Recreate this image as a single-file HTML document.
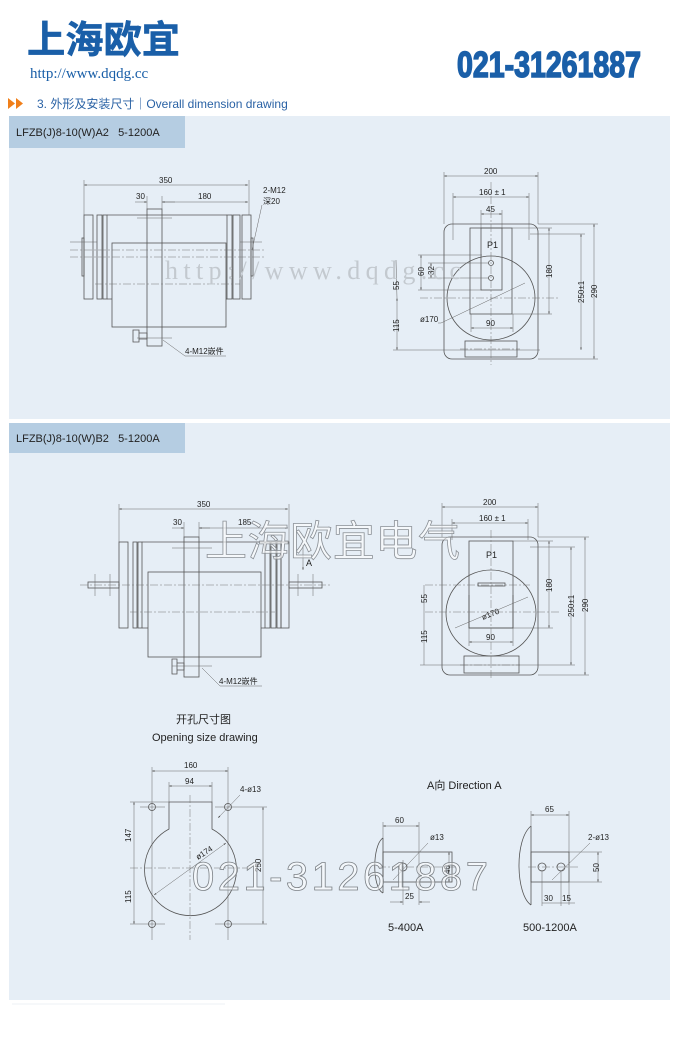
<!DOCTYPE html>
<html><head><meta charset="utf-8"><style>
html,body{margin:0;padding:0;background:#fff}
svg{display:block}
text{font-family:"Liberation Sans","Noto Sans CJK SC",sans-serif;fill:#222}
.l{stroke:#555;stroke-width:.8;fill:none}
.t{stroke:#666;stroke-width:.5;fill:none}
.c{stroke:#777;stroke-width:.5;fill:none;stroke-dasharray:8 2 2 2}
.d{font-size:8px}
</style></head><body>
<svg width="680" height="1050" viewBox="0 0 680 1050" xmlns="http://www.w3.org/2000/svg">
<defs><marker id="a" viewBox="0 0 6 6" refX="6" refY="3" markerWidth="5" markerHeight="5" orient="auto-start-reverse"><path d="M0,1 L6,3 L0,5z" fill="#555"/></marker></defs>
<rect width="680" height="1050" fill="#fff"/>
<!-- header -->
<text x="27" y="53" textLength="153" lengthAdjust="spacingAndGlyphs" style="font-size:38px;font-weight:bold;fill:#1a5fa8;stroke:#1a5fa8;stroke-width:.6;font-family:'Noto Sans CJK SC',sans-serif">上海欧宜</text>
<text x="30" y="78" style="font-size:15px;fill:#1a5fa8;font-family:'Liberation Serif',serif">http://www.dqdg.cc</text>
<text x="457" y="77" textLength="184" lengthAdjust="spacingAndGlyphs" style="font-size:36px;font-weight:bold;fill:#1a5fa8;stroke:#1a5fa8;stroke-width:1.6;font-family:'Liberation Sans Narrow','Liberation Sans',sans-serif">021-31261887</text>
<path d="M8,98 L15,103.5 L8,109z M16,98 L23,103.5 L16,109z" fill="#f07f1a"/>
<text x="37" y="108" style="font-size:12px;fill:#2a62a5">3. 外形及安装尺寸｜Overall dimension drawing</text>
<!-- panels -->
<rect x="9" y="116" width="661" height="303" fill="#e6eef6"/>
<rect x="9" y="116" width="176" height="32" fill="#b5cde2"/>
<text x="16" y="136" style="font-size:11px">LFZB(J)8-10(W)A2 &#160;&#160;5-1200A</text>
<rect x="9" y="423" width="661" height="577" fill="#e6eef6"/>
<rect x="9" y="423" width="176" height="30" fill="#b5cde2"/>
<text x="16" y="442" style="font-size:11px">LFZB(J)8-10(W)B2 &#160;&#160;5-1200A</text>
<line x1="12" y1="1004" x2="225" y2="1004" stroke="#eef2f6" stroke-width="1"/>

<!-- Drawing 1 left -->
<g>
<line class="t" x1="84" y1="185" x2="248" y2="185" marker-start="url(#a)" marker-end="url(#a)"/>
<line class="t" x1="84" y1="180" x2="84" y2="215"/><line class="t" x1="249" y1="180" x2="249" y2="215"/>
<text class="d" x="159" y="183">350</text>
<line class="t" x1="135" y1="202" x2="147" y2="202" marker-end="url(#a)"/>
<line class="t" x1="175" y1="202" x2="162" y2="202" marker-end="url(#a)"/>
<line class="t" x1="162" y1="202" x2="248" y2="202" marker-end="url(#a)"/>
<line class="t" x1="147" y1="196" x2="147" y2="209"/><line class="t" x1="162" y1="196" x2="162" y2="209"/>
<text class="d" x="136" y="199">30</text><text class="d" x="198" y="199">180</text>
<rect class="l" x="84" y="215" width="9" height="84"/>
<rect class="l" x="97" y="215" width="5" height="84"/>
<rect class="l" x="103" y="215" width="4" height="84"/>
<path class="l" d="M107,215 H227 M107,299 H112 M226,299 H227"/>
<rect class="l" x="112" y="243" width="114" height="84"/>
<rect class="l" x="227" y="215" width="5" height="84"/>
<rect class="l" x="233" y="215" width="7" height="84"/>
<rect class="l" x="242" y="215" width="9" height="84"/>
<rect class="l" x="82" y="238" width="2" height="38"/>
<rect class="l" x="251" y="238" width="2" height="38"/>
<rect class="l" x="147" y="209" width="15" height="137" fill="#e6eef6"/>
<path class="l" d="M133,330 h6 v12 h-6z M139,333 h8 v6 h-8z"/>
<line class="c" x1="70" y1="250" x2="265" y2="250"/>
<line class="c" x1="70" y1="257" x2="265" y2="257"/>
<line class="c" x1="95" y1="284" x2="240" y2="284"/>
<line class="t" x1="70" y1="242" x2="97" y2="242"/><line class="t" x1="240" y1="242" x2="262" y2="242"/>
<line class="t" x1="137" y1="218" x2="172" y2="218"/>
<line class="t" x1="137" y1="338" x2="172" y2="338"/>
<path class="t" d="M163,340 L185,356 H226"/>
<text class="d" x="185" y="354">4-M12嵌件</text>
<path class="t" d="M262,205 L252,250"/>
<text class="d" x="263" y="193">2-M12</text><text class="d" x="263" y="204">深20</text>
</g>

<!-- Drawing 1 right -->
<g>
<line class="t" x1="444" y1="176" x2="538" y2="176" marker-start="url(#a)" marker-end="url(#a)"/>
<line class="t" x1="444" y1="172" x2="444" y2="224"/><line class="t" x1="538" y1="172" x2="538" y2="224"/>
<text class="d" x="484" y="174">200</text>
<line class="t" x1="453" y1="197" x2="529" y2="197" marker-start="url(#a)" marker-end="url(#a)"/>
<line class="t" x1="453" y1="193" x2="453" y2="240"/><line class="t" x1="529" y1="193" x2="529" y2="240"/>
<text class="d" x="479" y="195">160 ± 1</text>
<line class="t" x1="481" y1="214" x2="502" y2="214" marker-start="url(#a)" marker-end="url(#a)"/>
<line class="t" x1="481" y1="210" x2="481" y2="228"/><line class="t" x1="502" y1="210" x2="502" y2="228"/>
<text class="d" x="486" y="212">45</text>
<rect class="l" x="444" y="224" width="94" height="135" rx="8"/>
<ellipse class="l" cx="491" cy="298" rx="44" ry="42"/>
<rect class="l" x="470" y="228" width="42" height="86" fill="#e6eef6"/>
<rect class="l" x="481" y="228" width="21" height="62"/>
<text class="d" x="487" y="248" style="font-size:9px">P1</text>
<circle class="l" cx="491" cy="263" r="2.5"/><circle class="l" cx="491" cy="278" r="2.5"/>
<rect class="l" x="465" y="341" width="52" height="16"/>
<line class="c" x1="491" y1="182" x2="491" y2="365"/>
<line class="c" x1="420" y1="298" x2="560" y2="298"/>
<line class="c" x1="460" y1="349" x2="520" y2="349"/>
<line class="t" x1="418" y1="255" x2="482" y2="255"/><line class="t" x1="418" y1="290" x2="482" y2="290"/>
<line class="t" x1="421" y1="255" x2="421" y2="290" marker-start="url(#a)" marker-end="url(#a)"/>
<text class="d" transform="translate(424,276) rotate(-90)">60</text>
<line class="t" x1="428" y1="263" x2="488" y2="263"/><line class="t" x1="428" y1="278" x2="488" y2="278"/>
<line class="t" x1="431" y1="263" x2="431" y2="278" marker-start="url(#a)" marker-end="url(#a)"/>
<text class="d" transform="translate(434,275) rotate(-90)">32</text>
<line class="t" x1="397" y1="298" x2="397" y2="350" marker-start="url(#a)" marker-end="url(#a)"/>
<line class="t" x1="396" y1="260" x2="397" y2="298"/>
<line class="t" x1="393" y1="350" x2="540" y2="350"/>
<text class="d" transform="translate(399,290) rotate(-90)">55</text>
<text class="d" transform="translate(399,332) rotate(-90)">115</text>
<text class="d" x="420" y="322">ø170</text>
<path class="t" d="M438,323 H441 L525,283"/>
<line class="t" x1="471" y1="328" x2="513" y2="328" marker-start="url(#a)" marker-end="url(#a)"/>
<line class="t" x1="471" y1="314" x2="471" y2="332"/><line class="t" x1="513" y1="314" x2="513" y2="332"/>
<text class="d" x="486" y="326">90</text>
<line class="t" x1="512" y1="228" x2="552" y2="228"/><line class="t" x1="512" y1="314" x2="552" y2="314"/>
<line class="t" x1="549" y1="228" x2="549" y2="314" marker-start="url(#a)" marker-end="url(#a)"/>
<text class="d" transform="translate(552,278) rotate(-90)">180</text>
<line class="t" x1="530" y1="234" x2="585" y2="234"/>
<line class="t" x1="581" y1="234" x2="581" y2="350" marker-start="url(#a)" marker-end="url(#a)"/>
<text class="d" transform="translate(584,303) rotate(-90)">250±1</text>
<line class="t" x1="538" y1="224" x2="598" y2="224"/><line class="t" x1="538" y1="359" x2="598" y2="359"/>
<line class="t" x1="594" y1="224" x2="594" y2="359" marker-start="url(#a)" marker-end="url(#a)"/>
<text class="d" transform="translate(597,298) rotate(-90)">290</text>
</g>
<text x="165" y="279" textLength="305" style="font-size:26px;font-family:'Liberation Serif',serif;fill:#c3c9cf;letter-spacing:9px">http://www.dqdg.cc</text>

<!-- Drawing 2 left -->
<g>
<line class="t" x1="119" y1="509" x2="288" y2="509" marker-start="url(#a)" marker-end="url(#a)"/>
<line class="t" x1="119" y1="504" x2="119" y2="542"/><line class="t" x1="289" y1="504" x2="289" y2="542"/>
<text class="d" x="197" y="507">350</text>
<line class="t" x1="172" y1="528" x2="184" y2="528" marker-end="url(#a)"/>
<line class="t" x1="210" y1="528" x2="199" y2="528" marker-end="url(#a)"/>
<line class="t" x1="199" y1="528" x2="288" y2="528" marker-end="url(#a)"/>
<line class="t" x1="184" y1="522" x2="184" y2="537"/><line class="t" x1="199" y1="522" x2="199" y2="537"/>
<text class="d" x="173" y="525">30</text><text class="d" x="238" y="525">185</text>
<rect class="l" x="119" y="542" width="9" height="86"/>
<rect class="l" x="133" y="542" width="4" height="86"/>
<rect class="l" x="138" y="542" width="4" height="86"/>
<path class="l" d="M142,542 H265 M142,628 H148 M261,628 H265"/>
<rect class="l" x="148" y="572" width="113" height="85"/>
<rect class="l" x="265" y="542" width="5" height="86"/>
<rect class="l" x="271" y="542" width="5" height="86"/>
<rect class="l" x="277" y="542" width="4" height="86"/>
<rect class="l" x="281" y="542" width="8" height="86"/>
<rect class="l" x="88" y="582" width="31" height="6"/>
<rect class="l" x="289" y="582" width="33" height="6"/>
<line class="t" x1="95" y1="574" x2="95" y2="596"/><line class="t" x1="110" y1="574" x2="110" y2="596"/>
<line class="t" x1="298" y1="574" x2="298" y2="596"/><line class="t" x1="313" y1="574" x2="313" y2="596"/>
<rect class="l" x="184" y="537" width="15" height="140" fill="#e6eef6"/>
<path class="l" d="M172,659 h5 v15 h-5z M177,663 h7 v7 h-7z"/>
<line class="c" x1="80" y1="585" x2="330" y2="585"/>
<line class="c" x1="130" y1="612" x2="275" y2="612"/>
<line class="t" x1="172" y1="548" x2="212" y2="548"/>
<line class="t" x1="172" y1="666" x2="212" y2="666"/>
<path class="t" d="M202,668 L220,686 H262"/>
<text class="d" x="219" y="684">4-M12嵌件</text>
<line class="t" x1="303" y1="545" x2="303" y2="570" marker-end="url(#a)"/>
<text x="306" y="566" style="font-size:9px">A</text>
</g>

<!-- Drawing 2 right -->
<g>
<line class="t" x1="442" y1="507" x2="538" y2="507" marker-start="url(#a)" marker-end="url(#a)"/>
<line class="t" x1="442" y1="503" x2="442" y2="537"/><line class="t" x1="538" y1="503" x2="538" y2="537"/>
<text class="d" x="483" y="505">200</text>
<line class="t" x1="452" y1="523" x2="528" y2="523" marker-start="url(#a)" marker-end="url(#a)"/>
<line class="t" x1="452" y1="519" x2="452" y2="540"/><line class="t" x1="528" y1="519" x2="528" y2="540"/>
<text class="d" x="479" y="521">160 ± 1</text>
<rect class="l" x="442" y="537" width="96" height="138" rx="8"/>
<ellipse class="l" cx="491" cy="613" rx="45" ry="43"/>
<rect class="l" x="469" y="541" width="44" height="87" fill="#e6eef6"/>
<path class="l" d="M469,595 V628 H513 V595" />
<text class="d" x="486" y="558" style="font-size:9px">P1</text>
<rect class="l" x="478" y="583" width="27" height="3"/>
<rect class="l" x="464" y="656" width="55" height="17"/>
<line class="c" x1="491" y1="530" x2="491" y2="680"/>
<line class="c" x1="425" y1="585" x2="530" y2="585"/>
<line class="c" x1="425" y1="612" x2="560" y2="612"/>
<line class="c" x1="460" y1="665" x2="520" y2="665"/>
<line class="t" x1="424" y1="585" x2="424" y2="665"/>
<text class="d" transform="translate(427,603) rotate(-90)">55</text>
<text class="d" transform="translate(427,643) rotate(-90)">115</text>
<line class="t" x1="420" y1="665" x2="575" y2="665"/>
<text class="d" transform="translate(483,620) rotate(-22)">ø170</text>
<line class="t" x1="455" y1="628" x2="528" y2="597"/>
<line class="t" x1="469" y1="642" x2="513" y2="642" marker-start="url(#a)" marker-end="url(#a)"/>
<line class="t" x1="469" y1="628" x2="469" y2="646"/><line class="t" x1="513" y1="628" x2="513" y2="646"/>
<text class="d" x="486" y="640">90</text>
<line class="t" x1="513" y1="541" x2="553" y2="541"/><line class="t" x1="513" y1="628" x2="553" y2="628"/>
<line class="t" x1="549" y1="541" x2="549" y2="628" marker-start="url(#a)" marker-end="url(#a)"/>
<text class="d" transform="translate(552,592) rotate(-90)">180</text>
<line class="t" x1="530" y1="547" x2="575" y2="547"/>
<line class="t" x1="571" y1="547" x2="571" y2="665" marker-start="url(#a)" marker-end="url(#a)"/>
<text class="d" transform="translate(574,617) rotate(-90)">250±1</text>
<line class="t" x1="538" y1="537" x2="589" y2="537"/><line class="t" x1="538" y1="675" x2="589" y2="675"/>
<line class="t" x1="585" y1="537" x2="585" y2="675" marker-start="url(#a)" marker-end="url(#a)"/>
<text class="d" transform="translate(588,612) rotate(-90)">290</text>
</g>
<text x="205" y="556" textLength="255" style="font-size:42px;font-family:'Noto Sans CJK SC',sans-serif;fill:rgba(255,255,255,.6);stroke:#8a8f95;stroke-width:.8">上海欧宜电气</text>

<text x="176" y="723" style="font-size:11px">开孔尺寸图</text>
<text x="152" y="741" style="font-size:11px">Opening size drawing</text>

<!-- Drawing 3 -->
<g>
<line class="t" x1="152" y1="771" x2="228" y2="771" marker-start="url(#a)" marker-end="url(#a)"/>
<line class="t" x1="152" y1="767" x2="152" y2="940"/><line class="t" x1="228" y1="767" x2="228" y2="940"/>
<text class="d" x="184" y="768">160</text>
<line class="t" x1="169" y1="786" x2="212" y2="786" marker-start="url(#a)" marker-end="url(#a)"/>
<line class="t" x1="169" y1="782" x2="169" y2="802"/><line class="t" x1="212" y1="782" x2="212" y2="802"/>
<text class="d" x="185" y="784">94</text>
<path class="l" d="M169,802 H212 V829 A46,46 0 1 1 169,829 Z"/>
<circle class="l" cx="152" cy="807" r="3.5"/><circle class="l" cx="228" cy="807" r="3.5"/>
<circle class="l" cx="152" cy="924" r="3.5"/><circle class="l" cx="228" cy="924" r="3.5"/>
<line class="t" x1="140" y1="807" x2="165" y2="807"/><line class="t" x1="215" y1="807" x2="267" y2="807"/>
<line class="t" x1="130" y1="924" x2="165" y2="924"/><line class="t" x1="215" y1="924" x2="267" y2="924"/>
<line class="t" x1="130" y1="802" x2="169" y2="802"/>
<line class="c" x1="190" y1="795" x2="190" y2="940"/>
<line class="c" x1="130" y1="868" x2="250" y2="868"/>
<line class="t" x1="134" y1="802" x2="134" y2="924" marker-start="url(#a)" marker-end="url(#a)"/>
<text class="d" transform="translate(131,842) rotate(-90)">147</text>
<text class="d" transform="translate(131,903) rotate(-90)">115</text>
<line class="t" x1="263" y1="807" x2="263" y2="924" marker-start="url(#a)" marker-end="url(#a)"/>
<text class="d" transform="translate(261,872) rotate(-90)">250</text>
<line class="t" x1="154" y1="895" x2="226" y2="843" marker-start="url(#a)" marker-end="url(#a)"/>
<text class="d" transform="translate(198,860) rotate(-33)">ø174</text>
<text class="d" x="240" y="792">4-ø13</text>
<line class="t" x1="218" y1="818" x2="240" y2="795" marker-start="url(#a)"/>

<text x="427" y="789" style="font-size:11px">A向 Direction A</text>
<!-- 5-400A -->
<path class="l" d="M383,838 C372,845 372,888 383,893"/>
<line class="l" x1="383" y1="838" x2="383" y2="893"/>
<rect class="l" x="383" y="852" width="69" height="30"/>
<circle class="l" cx="403" cy="867" r="4"/>
<line class="c" x1="378" y1="867" x2="455" y2="867"/>
<line class="t" x1="383" y1="826" x2="419" y2="826" marker-start="url(#a)" marker-end="url(#a)"/>
<line class="t" x1="383" y1="822" x2="383" y2="838"/><line class="t" x1="419" y1="822" x2="419" y2="905"/>
<text class="d" x="395" y="823">60</text>
<line class="t" x1="403" y1="860" x2="403" y2="905"/>
<line class="t" x1="390" y1="902" x2="403" y2="902" marker-end="url(#a)"/>
<line class="t" x1="430" y1="902" x2="419" y2="902" marker-end="url(#a)"/>
<text class="d" x="405" y="899">25</text>
<text class="d" x="430" y="840">ø13</text>
<line class="t" x1="393" y1="880" x2="428" y2="843"/>
<line class="t" x1="449" y1="852" x2="449" y2="882" marker-start="url(#a)" marker-end="url(#a)"/>
<text class="d" transform="translate(450,874) rotate(-90)">40</text>
<text x="388" y="931" style="font-size:11px">5-400A</text>
<!-- 500-1200A -->
<path class="l" d="M531,826 C514,840 516,895 531,905"/>
<line class="l" x1="531" y1="826" x2="531" y2="905"/>
<rect class="l" x="531" y="852" width="38" height="30"/>
<circle class="l" cx="542" cy="867" r="4"/><circle class="l" cx="561" cy="867" r="4"/>
<line class="c" x1="528" y1="867" x2="580" y2="867"/>
<line class="t" x1="569" y1="852" x2="602" y2="852"/><line class="t" x1="569" y1="882" x2="602" y2="882"/>
<line class="t" x1="531" y1="815" x2="569" y2="815" marker-start="url(#a)" marker-end="url(#a)"/>
<line class="t" x1="531" y1="811" x2="531" y2="826"/><line class="t" x1="569" y1="811" x2="569" y2="905"/>
<text class="d" x="545" y="812">65</text>
<line class="t" x1="598" y1="852" x2="598" y2="882" marker-start="url(#a)" marker-end="url(#a)"/>
<text class="d" transform="translate(599,872) rotate(-90)">50</text>
<line class="t" x1="542" y1="870" x2="542" y2="906"/><line class="t" x1="561" y1="870" x2="561" y2="906"/>
<line class="t" x1="542" y1="903" x2="575" y2="903"/>
<text class="d" x="544" y="901">30</text><text class="d" x="562" y="901">15</text>
<text class="d" x="588" y="840">2-ø13</text>
<line class="t" x1="552" y1="880" x2="590" y2="843"/>
<text x="523" y="931" style="font-size:11px">500-1200A</text>
</g>
<text x="192" y="890" textLength="296" lengthAdjust="spacing" style="font-size:40px;font-family:'Liberation Sans Narrow','Liberation Sans',sans-serif;fill:rgba(255,255,255,.5);stroke:#7c8186;stroke-width:.8">021-31261887</text>
</svg>
</body></html>
